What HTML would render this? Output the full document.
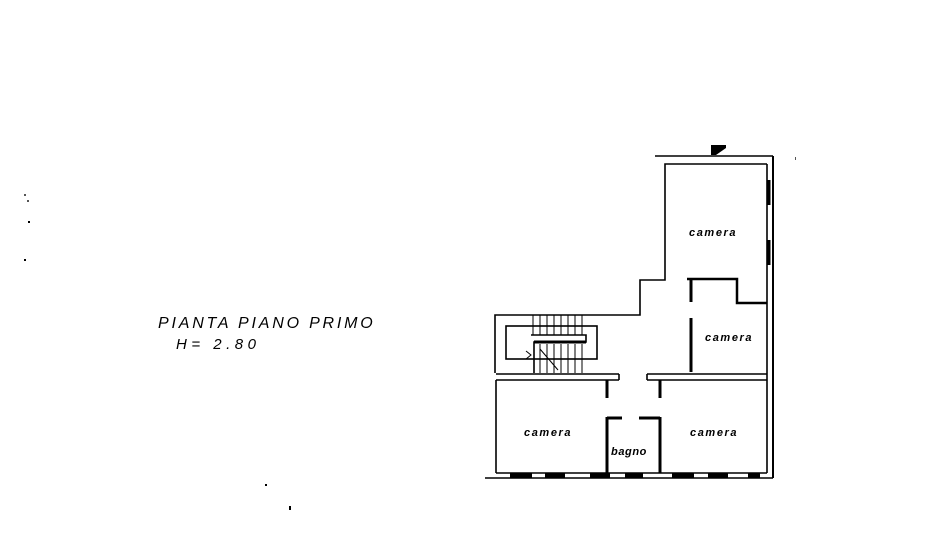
<!DOCTYPE html>
<html><head><meta charset="utf-8"><style>
html,body{margin:0;padding:0;background:#fff;}
svg{display:block;}
text{font-family:"Liberation Sans",sans-serif;font-style:italic;fill:#000;}
</style></head><body>
<svg width="940" height="540" viewBox="0 0 940 540" xmlns="http://www.w3.org/2000/svg">
<rect width="940" height="540" fill="#fff"/>
<!-- title -->
<text x="158" y="328" font-size="16" letter-spacing="2.8">PIANTA PIANO PRIMO</text>
<text x="176" y="349" font-size="15" letter-spacing="4.5">H= 2.80</text>
<!-- specks -->
<rect x="24" y="194" width="2" height="2" fill="#555"/>
<rect x="27" y="200" width="2" height="2" fill="#555"/>
<rect x="28" y="221" width="2" height="2" fill="#000"/>
<rect x="24" y="259" width="2" height="2" fill="#000"/>
<rect x="265" y="484" width="2" height="2" fill="#000"/>
<rect x="289" y="506" width="2" height="4" fill="#000"/>
<rect x="795" y="157" width="1" height="3" fill="#555"/>
<g stroke="#000" fill="none" stroke-width="1.6">
<line x1="655" y1="156" x2="773" y2="156"/>
<rect x="711" y="145" width="15" height="10" fill="#000" stroke="none"/>
<polygon points="716,155 726,148 726,155" fill="#fff" stroke="none"/>
<line x1="773" y1="156" x2="773" y2="478" stroke-width="2"/>
<line x1="767" y1="164" x2="767" y2="473"/>
<line x1="769" y1="180" x2="769" y2="205" stroke-width="3"/>
<line x1="769" y1="240" x2="769" y2="265" stroke-width="3"/>
<polyline points="767,164 665,164 665,280 640,280 640,315 495,315 495,373"/>
<line x1="496" y1="374" x2="619" y2="374"/>
<line x1="496" y1="380" x2="619" y2="380"/>
<line x1="619" y1="374" x2="619" y2="380"/>
<line x1="647" y1="374" x2="767" y2="374"/>
<line x1="647" y1="380" x2="767" y2="380"/>
<line x1="647" y1="374" x2="647" y2="380"/>
<line x1="496" y1="380" x2="496" y2="473"/>
<polyline points="687,279 737,279 737,303 767,303" stroke-width="2.5"/>
<line x1="691" y1="279" x2="691" y2="302" stroke-width="3"/>
<line x1="691" y1="318" x2="691" y2="372" stroke-width="3"/>
<line x1="607" y1="380" x2="607" y2="398" stroke-width="3"/>
<line x1="660" y1="380" x2="660" y2="398" stroke-width="3"/>
<line x1="607" y1="417" x2="607" y2="473" stroke-width="3"/>
<line x1="660" y1="417" x2="660" y2="473" stroke-width="3"/>
<line x1="607" y1="418" x2="622" y2="418" stroke-width="3"/>
<line x1="639" y1="418" x2="660" y2="418" stroke-width="3"/>
<line x1="485" y1="478" x2="773" y2="478" stroke-width="1.6"/>
<line x1="496" y1="473" x2="767" y2="473"/>
<rect x="506" y="326" width="91" height="33"/>
<polyline points="534,373 534,342 586,342 586,335 531,335"/>
<line x1="534" y1="342" x2="586" y2="342" stroke-width="3"/>
<line x1="540" y1="349" x2="558" y2="370" stroke-width="1"/>
</g>
<g stroke="#000" stroke-width="1">
<line x1="533" y1="315" x2="533" y2="335"/><line x1="540" y1="315" x2="540" y2="335"/>
<line x1="547" y1="315" x2="547" y2="335"/><line x1="554" y1="315" x2="554" y2="335"/>
<line x1="561" y1="315" x2="561" y2="335"/><line x1="568" y1="315" x2="568" y2="335"/>
<line x1="575" y1="315" x2="575" y2="335"/><line x1="582" y1="315" x2="582" y2="335"/>
<line x1="540" y1="344" x2="540" y2="373"/><line x1="547" y1="344" x2="547" y2="373"/>
<line x1="554" y1="344" x2="554" y2="373"/><line x1="561" y1="344" x2="561" y2="373"/>
<line x1="568" y1="344" x2="568" y2="373"/><line x1="575" y1="344" x2="575" y2="373"/>
<line x1="582" y1="344" x2="582" y2="373"/>
<polyline points="526,351 531,355 526,359" fill="none"/>
</g>
<g fill="#000">
<rect x="510" y="473" width="22" height="5"/><rect x="545" y="473" width="20" height="5"/>
<rect x="590" y="473" width="20" height="5"/><rect x="625" y="473" width="18" height="5"/>
<rect x="672" y="473" width="22" height="5"/><rect x="708" y="473" width="20" height="5"/>
<rect x="748" y="473" width="12" height="5"/>
</g>
<g font-size="11" font-weight="bold" letter-spacing="1.6">
<text x="689" y="236">camera</text>
<text x="705" y="341">camera</text>
<text x="524" y="436">camera</text>
<text x="690" y="436">camera</text>
<text x="611" y="455" letter-spacing="0.6">bagno</text>
</g>
</svg>
</body></html>
